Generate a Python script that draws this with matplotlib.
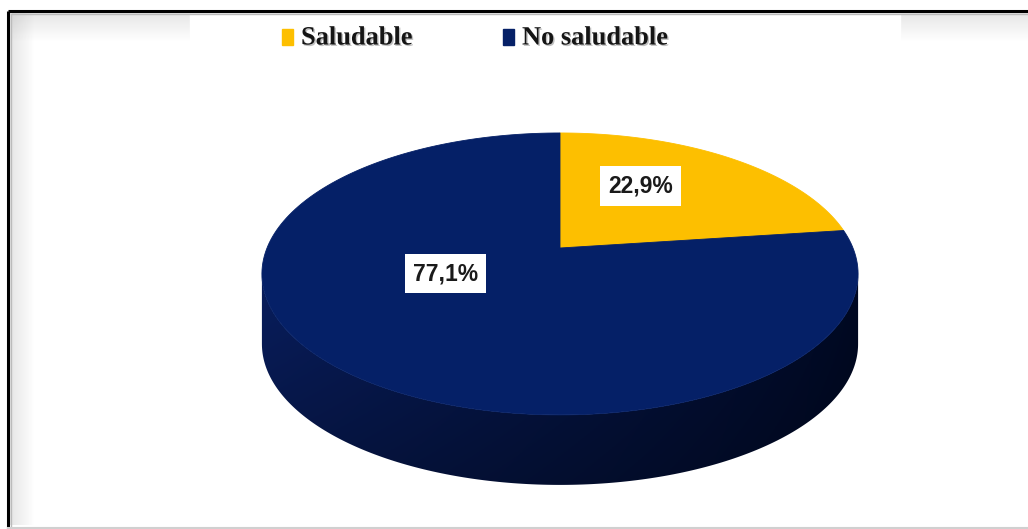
import numpy as np
import matplotlib
matplotlib.use("Agg")
import matplotlib.pyplot as plt
from matplotlib.patches import Polygon, Rectangle
from matplotlib import font_manager
import matplotlib.patheffects as pe


categories = ["Saludable", "No saludable"]
percentages = [22.9, 77.1]
labels = ["22,9%", "77,1%"]
colors = ["#FDBF00", "#052067"]

# projected disk geometry (pixels)
CX, CY = 560, 248
A, B, K = 293, 136.2, 0.184
DEPTH = 70

W, H = 1028, 529


def project(u, v, drop=0.0):
    d = 1 + K * v
    return CX + A * u / d, CY - B * v / d + drop


def arc(t0, t1, drop=0.0, n=200):
    t = np.radians(np.linspace(t0, t1, n))
    x, y = project(np.cos(t), np.sin(t), drop)
    return np.column_stack([x, y])


names = {f.name for f in font_manager.fontManager.ttflist}
if "Liberation Sans Narrow" in names:
    label_font, label_size = "Liberation Sans Narrow", 20
else:
    label_font, label_size = "Liberation Sans", 16.5

fig = plt.figure(figsize=(W / 100, H / 100), dpi=100)
ax = fig.add_axes([0, 0, 1, 1])
ax.set_xlim(0, W)
ax.set_ylim(H, 0)
ax.axis("off")

# chart-area shadow along top and left
top_shade = np.zeros((30, 1, 4))
top_shade[..., :3] = 0.55
top_shade[:, 0, 3] = np.linspace(0.22, 0.0, 30)
ax.imshow(top_shade, extent=(12, W, 42, 12), aspect="auto", zorder=1)
left_shade = np.zeros((1, 25, 4))
left_shade[..., :3] = 0.55
left_shade[0, :, 3] = np.linspace(0.22, 0.0, 25)
ax.imshow(left_shade, extent=(10, 35, H - 4, 12), aspect="auto", zorder=1)
ax.add_patch(Rectangle((190, 14), 710, 40, color="white", zorder=1.5))

# frame
ax.plot([8, W], [11, 11], color="black", lw=2.2, solid_capstyle="butt", zorder=5)
ax.plot([8, 8], [11, H], color="black", lw=2.2, solid_capstyle="butt", zorder=5)
ax.plot([11, W], [13.5, 13.5], color="#bbbbbb", lw=1, zorder=5)
ax.plot([11, 11], [13.5, H], color="#bbbbbb", lw=1, zorder=5)
ax.plot([8, W], [527.5, 527.5], color="#d0d0d0", lw=1.5, zorder=5)

# side wall of the pie (front half only is visible)
t_edge = np.degrees(np.arcsin(K))
top_front = arc(-t_edge, -180 + t_edge)
bottom_front = arc(-180 + t_edge, -t_edge, drop=DEPTH)
side = Polygon(np.vstack([top_front, bottom_front]), closed=True,
               facecolor="none", edgecolor="none", zorder=2)
ax.add_patch(side)

gx = np.linspace(0, 1, 300)
gy = np.linspace(0, 1, 150)[:, None]
c_left = np.array([0.035, 0.12, 0.38])
c_right = np.array([0.0, 0.035, 0.14])
grad = c_left[None, None, :] * (1 - gx[None, :, None]) ** 0.8 + c_right[None, None, :] * (1 - (1 - gx[None, :, None]) ** 0.8)
grad = grad * (1.0 - 0.35 * gy[..., None])
x0, x1 = CX - A * 1.02 - 2, CX + A * 1.02 + 2
y0, y1 = CY, CY + 175 + DEPTH
im = ax.imshow(grad, extent=(x0, x1, y1, y0), aspect="auto", zorder=2)
im.set_clip_path(side)

# top faces of the slices
start = 90.0
label_r = [0.58, 0.42]
label_shift = [10, -23]
for i, (pct, col) in enumerate(zip(percentages, colors)):
    sweep = pct / 100 * 360
    end = start - sweep
    pts = np.vstack([[project(0, 0)], arc(start, end)])
    ax.add_patch(Polygon(pts, closed=True, facecolor=col, edgecolor=col,
                         lw=0.6, zorder=3))
    mid = np.radians((start + end) / 2 + label_shift[i])
    lx, ly = project(label_r[i] * np.cos(mid), label_r[i] * np.sin(mid))
    ax.text(lx, ly, labels[i], ha="center", va="center", fontsize=label_size,
            fontweight="bold", family=label_font, color="#1a1a1a", zorder=6,
            bbox=dict(boxstyle="square,pad=0.36", facecolor="white",
                      edgecolor="none"))
    start = end

# legend
legend_x = [282, 503]
for name, col, lx in zip(categories, colors, legend_x):
    ax.add_patch(Rectangle((lx, 29), 11, 16, color=col, zorder=6))
    ax.text(lx + 19, 38, name, ha="left", va="center", fontsize=19,
            fontweight="bold", family="Liberation Serif", color="#151515",
            zorder=6,
            path_effects=[pe.withSimplePatchShadow(offset=(1, -1), alpha=0.25)])

fig.savefig("out.png", dpi=100)
